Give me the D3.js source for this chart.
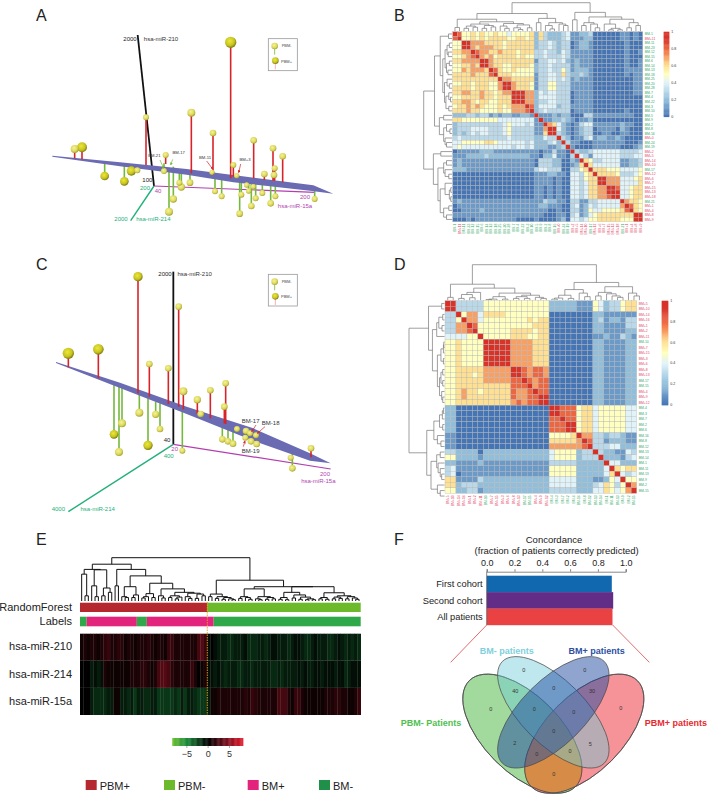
<!DOCTYPE html>
<html><head><meta charset="utf-8">
<script src="https://d3js.org/d3.v7.min.js"></script>
<style>html,body{margin:0;padding:0;background:#fff}svg{display:block}text{font-family:"Liberation Sans",Arial,sans-serif}</style>
</head><body><svg id="c" width="710" height="794"></svg>
<script>
// ---------- Panel A (values read in picture units, 3x of the panel crop)
const aPosX=[632,514,378,579,701,759,788,186,164,437,640,733,762,764];
const aPosTop=[127,338,352,399,421,445,469,442,447,465,495,522,525,505];
const aPosBase=[535,520,495,525,535,542,547,478,475,492,530,540,542,542];
const aPosDepth=[17,12,9,10,10,10,10,15,12,9,9,10,10,9];
const aNegX=[254,313,334,352,447,460,484,478,510,585,605,664,659,694,707,727,752,766,884,686,680,700,432,650,576];
const aNegTop=[528,544,513,511,635,597,561,548,548,574,589,584,641,618,595,579,610,589,597,573,555,560,513,527,517];
const aNegBase=[490,497,513,511,510,500,515,515,525,530,535,540,540,545,545,548,545,548,570,545,545,545,490,527,517];
const aNegDepth=[13,13,14,9,12,11,11,9,10,9,9,9,10,10,9,9,10,9,9,8,8,8,9,8,8];
// ---------- Panel C
const cPosX=[145,235,354,476,388,445,490,532,571,617,613,873];
const cPosTop=[310,298,80,170,342,355,424,449,421,400,470,595];
const cPosBase=[352,385,430,470,440,462,478,492,505,522,520,622];
const cPosDepth=[17,16,14,10,10,10,12,11,10,10,10,10];
const cNegX=[282,306,297,358,384,407,420,487,607,624,639,817,812,651,678,690,676,693,710,708,542];
const cNegTop=[553,520,606,488,586,493,537,602,568,574,581,655,623,537,543,550,563,574,582,556,492];
const cNegBase=[405,410,410,432,445,455,460,480,530,535,540,610,623,537,543,550,563,574,582,556,492];
const cNegDepth=[13,12,12,12,14,11,10,9,10,10,10,10,9,9,10,9,9,10,10,9,10];
// ---------- Panel B
const bNames=["BM-1","BM+11","BM-11","BM-23","BM-12","BM-15","BM-6","BM-14","BM-13","BM-18","BM-25","BM-20","BM-28","BM-7","BM-4","BM-22","BM-3","BM-10","BM-5","BM-9","BM-2","BM-8","BM-16","BM+0","BM-24","BM-19","BM+2","BM+5","BM+14","BM+10","BM-17","BM+12","BM+6","BM+7","BM+15","BM+13","BM+18","BM-21","BM+1","BM+4","BM+8","BM+9"];
const bMatrix=[
"a8 55656556 554 555 56 26322234 11223 000000 11010",
"8a 55656566 665 566 56 26322234 11122 000000 11010",
"55 a9777666 656 666 66 23343233 01221 000000 01000",
"55 9a767776 656 666 66 23343233 01221 000000 01000",
"66 77a87766 766 656 66 33433243 11111 000000 01001",
"55 678a7675 666 656 55 33433343 11111 000000 01000",
"66 7777a976 666 666 66 13344342 12111 000000 01001",
"55 66769a76 655 666 65 23343333 12111 000000 01001",
"55 767776a8 655 655 55 23343353 12221 000000 01111",
"66 6676668a 666 555 55 13344363 22321 000000 01011",
"66 66666666 a77 666 66 13344343 12111 000000 00011",
"55 66566655 7a9 766 65 13355333 11111 000000 00011",
"66 66566655 79a 766 65 13355333 11111 000000 00011",
"66 77667665 677 a99 77 24344333 01111 000000 00011",
"55 66667665 666 9a9 77 24444333 01111 000000 00000",
"66 77656655 666 99a 77 23344333 01111 000000 00000",
"56 67676555 656 777 a8 24444233 11111 000000 00000",
"66 67665555 655 777 8a 23433333 01111 000000 01000",
"22 23323312 122 112 21 a1112122 00033 111111 11100",
"66 55555555 444 444 44 1a112232 10112 000000 00000",
"23 33333333 345 444 34 11a76421 01344 111111 21100",
"23 33444433 345 333 33 117a9421 01233 011110 21000",
"23 23434433 345 333 33 1169a321 01233 001100 11000",
"34 33333333 334 333 33 22433a32 01134 122112 10000",
"44 55555665 444 444 34 222342a3 11000 111111 10001",
"45 44444444 444 344 34 2221123a 10000 111111 00012",
"01 11112221 111 111 11 10113110 a3223 444444 33334",
"11 12222322 222 222 21 10224110 3a431 444444 33344",
"12 11111111 111 111 11 03332200 21a65 334444 11223",
"12 11111111 111 111 11 03332200 126a6 444444 11223",
"22 21111111 111 111 11 34433300 3356a 666555 44445",
"00 00000000 000 000 00 11122110 44356 a66665 33345",
"00 00000000 000 000 00 11110100 44356 6a9777 44456",
"00 00000000 000 000 00 11110100 44346 69a777 44446",
"00 00000000 000 000 00 11010100 44346 677a98 44566",
"00 00000000 000 000 00 11010100 44346 6779a9 44566",
"00 00000000 000 000 00 11010100 44346 67789a 44566",
"12 11111111 111 111 11 11322110 33113 344444 a7665",
"01 11111111 111 111 11 12211100 34124 344444 7a865",
"00 11112111 111 111 11 11100100 33125 445555 68a65",
"11 11111111 111 111 11 11000110 34124 566666 666a9",
"00 01011111 111 100 00 10000120 44345 566666 5559a"];
const bTree=[1,
 [.62,
  [.42,[.13,0,0],[.33,
    [.25,[.18,[.1,0,0],[.14,0,0]],[.2,[.1,0,0],[.15,0,0]]],
    [.27,[.18,0,[.1,0,0]],[.22,[.12,0,[.06,0,0]],[.12,0,0]]]]],
  [.45,[.3,0,0],[.3,[.2,0,[.08,0,0]],[.25,0,[.2,0,0]]]]],
 [.66,[.4,0,0],[.5,[.3,[.2,0,0],[.25,0,[.12,0,0]]],
    [.42,[.25,0,[.1,[.05,0,0],[.05,0,0]]],[.3,[.12,0,0],[.2,0,0]]]]]];
// ---------- Panel D
const dNames=["BM+5","BM+10","BM+14","BM+16","BM+1","BM+2","BM+11","BM-10","BM+7","BM+15","BM+3","BM+6","BM+8","BM+13","BM-17","BM-15","BM+4","BM+9","BM+12","BM-4","BM-3","BM-7","BM-2","BM-6","BM-16","BM-8","BM-12","BM-13","BM-14","BM-1","BM-11","BM-13","BM-9","BM-2","BM-15"];
const dMatrix=[
"a9 3333 3 55555 5555 555 22222 111 54233566",
"9a 3333 3 55555 5555 555 22222 111 54233566",
"33 a577 4 66665 5555 555 00000 000 22111111",
"33 5a77 4 55555 5556 566 00000 000 23122133",
"33 77a8 5 55555 5555 666 00000 000 22111133",
"33 778a 5 55555 6666 566 00000 000 22111122",
"44 4455 a 55555 6665 566 00000 000 11211321",
"55 6555 5 a9999 7777 666 00000 000 22111122",
"55 6555 5 9a999 7777 666 00000 000 22111122",
"55 6555 5 99a99 7777 666 00000 000 22111122",
"55 6555 5 999a9 7777 666 00000 000 22111122",
"55 6555 5 9999a 7777 666 00000 000 22111122",
"55 6666 6 77777 a987 887 00000 000 22111122",
"55 6665 6 77777 9a87 887 00000 000 22111122",
"55 6666 6 77777 88a8 788 00000 000 22111122",
"55 6666 6 66666 888a 788 00000 000 22111122",
"55 6766 5 66666 8778 a88 00000 000 22111122",
"55 6766 6 66666 8778 8a9 00000 000 22111122",
"55 6666 6 66666 7878 89a 00000 000 22111122",
"22 0000 0 00000 0000 000 a9888 566 45555544",
"22 0000 0 00000 0000 000 9a888 566 45555544",
"22 0000 0 00000 0000 000 88a88 566 45555544",
"22 0000 0 00000 0000 000 888a9 566 45555544",
"22 0000 0 00000 0000 000 8889a 566 45555544",
"11 0000 0 00000 0000 000 55556 a77 33233211",
"11 0000 0 00000 0000 000 66666 7a8 33122211",
"11 0000 0 00000 0000 000 77777 78a 33344222",
"33 2222 0 22222 2222 222 45555 233 a3221143",
"55 2222 1 22222 2222 222 45555 233 3a222134",
"22 1111 2 11111 1111 111 33333 222 22a44222",
"34 1111 1 11111 1111 111 55555 222 224a6566",
"34 0111 1 11111 1111 111 55555 222 2246a434",
"66 1111 3 22222 2222 222 44444 222 11254a55",
"66 2333 2 22222 2222 222 44444 222 346535a7",
"55 2233 1 22222 2222 222 33333 222 4465457a"];
const dTree=[1,
 [.45,[.08,0,0],[.34,
   [.22,[.16,[.05,0,0],[.07,0,0]],0],
   [.2,[.1,[.03,[.02,0,0],0],[.03,0,0]],[.14,[.1,[.05,0,0],[.05,0,0]],[.08,0,[.05,0,0]]]]]],
 [.5,[.3,[.14,[.06,[.03,0,0],0],[.05,0,0]],[.2,0,[.1,0,0]]],
   [.38,[.22,[.12,0,0],[.18,0,[.12,0,[.08,0,0]]]],[.2,0,[.12,0,0]]]]];
// ---------- Panel E
const eRowNames=["hsa-miR-210","hsa-miR-214","hsa-miR-15a"];
const eMir210=[0.5,1,0.5,1,1,0.5,1,1.5,2,1,1,1.5,1.5,0.5,1,1,0.5,1,1,1,1.5,1,0.5,1,1,0.5,2,2,1,1,1,1,1,1,1,2.5,3,2,-0.5,0,-0.5,-1,-1,-1,-1.5,-1.5,-1,-1,-1,-0.5,-1.5,-1.5,-1.5,-1,-1,-1.5,-1,-0.5,-0.5,-1,-1,-1,-1.5,-1,-0.5,-0.5,-1,-1.5,-1.5,-1,-0.5,-1,-1,-1,-1.5,-1.5,-1,-0.5,-1,-1.5,-1,-1.5,-1,-1.5];
const eMir214=[0,0,0,-1,-0.5,-1,-0.5,1,0.5,0.5,0.5,0.5,0.5,0.5,0.5,1,1,1,1.5,1.5,1,0.5,1,2.5,3,3,2.5,1.5,1,1,1,1,1,2,1,0,0.5,1,-0.5,-0.5,-1,-0.5,-1,-1.5,-1,-1,-1,-1.5,-1.5,-1,-1,-1.5,-1,-1,-1,-1,-1,-1.5,-1.5,-1,-1.5,-1,-1,-1,-1,-0.5,-1,-0.5,-1,-1,-0.5,-0.5,-1,-0.5,-0.5,-0.5,-1,-0.5,-0.5,-1.5,-1,-0.5,-0.5,-0.5];
const eMir15a=[0,0,0,-1,-1.5,-1.5,-1.5,-1.5,-1,-1,0.5,0.5,-1,-1,-1.5,-1,-2,-1,-1,-1.5,-1.5,-1,-1,-2,-2,-2,-2,-2,-1.5,-2,-1,-2,-1,-1,-1.5,-2,-2,-2,-1,0.5,0.5,1,1,1,1,1,1,1,1,1.5,1,2,1.5,1,1,1,1,1,1,2.5,2.5,2.5,1,0.5,2,2,1,0.5,0.5,0.5,0.5,0.5,0.5,1,1,1,1.5,1.5,1,1,0.5,0.5,1,2];
const eForest=[["PBM+",38],["PBM-",46]];
const eLabels=[["BM-",2],["BM+",15],["BM-",3],["BM+",20],["BM-",44]];
const eTree=[1,
 [.85,
  [.73,[.62,0,[.12,0,0]],[.72,[.35,0,[.1,0,0]],[.3,[.12,0,0],[.2,0,0]]]],
  [.73,[.35,0,0],[.58,
    [.33,[.1,0,[.08,0,0]],[.14,[.08,0,0],0]],
    [.41,[.17,[.1,[.07,0,0],0],[.08,0,0]],[.28,[.12,0,[.07,0,0]],[.2,[.12,[.08,0,0],[.09,[.05,0,0],0]],[.18,[.1,0,[.06,0,0]],[.16,[.06,0,0],[.12,0,0]]]]]]]]],
 [.48,
  [.16,[.1,0,0],[.1,[.06,0,0],[.08,[.04,0,0],[.05,0,[.03,0,0]]]]],
  [.33,
   [.28,[.1,[.06,0,0],[.08,0,[.04,0,0]]],[.1,[.05,0,[.03,0,0]],[.08,[.04,0,0],[.05,0,0]]]],
   [.33,[.2,[.08,[.04,0,0],[.03,0,0]],[.14,[.07,0,0],[.09,[.04,0,0],[.05,[.03,0,0],[.03,0,0]]]]],
        [.19,[.08,[.05,0,0],[.04,0,0]],[.12,[.09,[.05,0,0],[.06,0,0]],[.1,[.05,0,0],[.07,0,[.04,0,0]]]]]]]]];
// ---------- Panel F
const fCohorts=["First cohort","Second cohort","All patients"];
const fConcordance=[0.90,0.91,0.905];
const fTicks=[0,0.2,0.4,0.6,0.8,1];
const vennCounts=[0,0,0,0, 40,0,30, 0,0, 2,0,5, 0,0, 0];
const vennX=[302,401,584,692, 376,491,606, 433,551, 374,491,601, 440,540, 491];
const vennY=[553,435,435,548, 498,489,498, 553,561, 655,619,658, 686,679, 747];
const hmStops=[0,.2,.4,.5,.6,.75,.9,1];
const hmColors=["#4575b4","#91bfdb","#e0f3f8","#ffffbf","#fee090","#f57f4d","#d8352a","#d73027"];
const colorTicks=[0,.2,.4,.6,.8,1];

const svg=d3.select("#c");
const defs=svg.append("defs");
function grad(id,a,b,c){const g=defs.append("radialGradient").attr("id",id).attr("cx","42%").attr("cy","38%").attr("r","62%");
 g.append("stop").attr("offset","0%").attr("stop-color",a);g.append("stop").attr("offset","65%").attr("stop-color",b);g.append("stop").attr("offset","100%").attr("stop-color",c);}
grad("sLight","#f7f39a","#dcd85a","#a5a336");grad("sDark","#ece83a","#c8c420","#79780f");
function arrowDef(id,col){defs.append("marker").attr("id",id).attr("viewBox","0 0 6 6").attr("refX",5).attr("refY",3).attr("markerWidth",4).attr("markerHeight",4).attr("orient","auto").append("path").attr("d","M0,0L6,3L0,6Z").attr("fill",col);}
arrowDef("arRed","#d8232a");arrowDef("arGreen","#74b83c");

const letters=[["A",36,21],["B",394,21],["C",36,270],["D",394,270],["E",36,545],["F",394,545]];
svg.selectAll("text.pl").data(letters).join("text").attr("class","pl").attr("x",d=>d[1]).attr("y",d=>d[2]).attr("font-size",16).attr("fill","#222").text(d=>d[0]);

// ---------- 3D panels
const RED="#d8232a",GRN="#74b83c",TEAL="#22b07a",MAG="#b23fb0";
function panel3D(o){
 const x=d3.scaleLinear([0,1020],[o.ox,o.ox+340]),y=d3.scaleLinear([0,720],[o.oy,o.oy+240]),r=d3.scaleLinear([0,30],[0,10]);
 const g=svg.append("g");
 const ax=[[o.origin,o.z,"#111",1.8],[o.origin,o.t,TEAL,1.4],[o.origin,o.m,MAG,1.2]];
 g.selectAll("line.ax").data(ax).join("line").attr("x1",d=>x(d[0][0])).attr("y1",d=>y(d[0][1])).attr("x2",d=>x(d[1][0])).attr("y2",d=>y(d[1][1])).attr("stroke",d=>d[2]).attr("stroke-width",d=>d[3]);
 const stem=(X,T,B,col)=>g.selectAll(null).data(X).join("line").attr("x1",d=>x(d)).attr("x2",d=>x(d)).attr("y1",(d,i)=>y(T[i])).attr("y2",(d,i)=>y(B[i])).attr("stroke",col).attr("stroke-width",1.6);
 stem(o.negX,o.negTop,o.negBase,GRN);
 g.append("path").attr("d",d3.line().x(d=>x(d[0])).y(d=>y(d[1]))(o.plane)+"Z").attr("fill","#6a6bb2");
 stem(o.posX,o.posTop,o.posBase,RED);
 const ball=(X,T,D)=>g.selectAll(null).data(X).join("circle").attr("cx",d=>x(d)).attr("cy",(d,i)=>y(T[i])).attr("r",(d,i)=>r(D[i])).attr("fill",(d,i)=>D[i]>=13?"url(#sDark)":"url(#sLight)");
 ball(o.negX,o.negTop,o.negDepth);ball(o.posX,o.posTop,o.posDepth);
 g.selectAll(null).data(o.labels).join("text").attr("x",d=>x(d[1])).attr("y",d=>y(d[2])+d[4]*.35).attr("text-anchor","middle").attr("font-size",d=>d[4]).attr("fill",d=>d[3]).text(d=>d[0]);
 g.selectAll(null).data(o.arrows).join("line").attr("x1",d=>x(d[0])).attr("y1",d=>y(d[1])).attr("x2",d=>x(d[2])).attr("y2",d=>y(d[3])).attr("stroke",d=>d[4]==="g"?GRN:RED).attr("stroke-width",.7).attr("marker-end",d=>d[4]==="g"?"url(#arGreen)":"url(#arRed)");
 const b=o.box;
 g.append("rect").attr("x",x(b[0])).attr("y",y(b[1])).attr("width",x(b[2])-x(b[0])).attr("height",y(b[3])-y(b[1])).attr("fill","none").attr("stroke","#999").attr("stroke-width",.8);
 const leg=[[b[0]+19,b[1]+22,GRN,"PBM-","url(#sLight)",b[0]+40,b[1]+22],[b[0]+21,b[1]+66,"#f0a0a8","PBM+","url(#sDark)",b[0]+38,b[1]+68]];
 leg.forEach(l=>{g.append("line").attr("x1",x(l[0])).attr("x2",x(l[0])).attr("y1",y(l[1])).attr("y2",y(l[1]+26)).attr("stroke",l[2]).attr("stroke-width",.8);
  g.append("circle").attr("cx",x(l[0])).attr("cy",y(l[1])).attr("r",3.3).attr("fill",l[4]);
  g.append("text").attr("x",x(l[5])).attr("y",y(l[6])+1.4).attr("font-size",4).attr("fill","#444").text(l[3]);});
}
panel3D({ox:20,oy:0,origin:[402,558],z:[353,105],t:[332,662],m:[885,577],
 plane:[[97,467],[300,487],[500,507],[880,556],[940,581],[870,572],[640,547],[500,524],[300,499],[97,470]],
 posX:aPosX,posTop:aPosTop,posBase:aPosBase,posDepth:aPosDepth,negX:aNegX,negTop:aNegTop,negBase:aNegBase,negDepth:aNegDepth,
 labels:[["2000",330,117,"#222",6],["hsa-miR-210",423,117,"#333",6],["100",382,541,"#222",6],["200",375,564,TEAL,6],["40",414,574,MAG,6],["2000",303,657,TEAL,6],["hsa-miR-214",400,657,TEAL,6],["200",855,590,MAG,6],["hsa-miR-15a",825,619,MAG,6],["BM-21",403,466,"#333",4.2],["BM-17",476,459,"#333",4.2],["BM-11",555,474,"#333",4.2],["BM+3",675,480,"#333",4.2]],
 arrows:[[420,480,431,505,"g"],[458,478,452,495,"g"],[560,483,578,507,"r"],[662,492,656,518,"r"]],box:[745,116,832,212]});
panel3D({ox:20,oy:250,origin:[460,583],z:[460,65],t:[145,785],m:[932,657],
 plane:[[108,336],[300,398],[500,470],[700,535],[870,610],[932,640],[870,632],[700,572],[500,492],[300,414],[108,339]],
 posX:cPosX,posTop:cPosTop,posBase:cPosBase,posDepth:cPosDepth,negX:cNegX,negTop:cNegTop,negBase:cNegBase,negDepth:cNegDepth,
 labels:[["2000",435,71,"#222",6],["hsa-miR-210",524,71,"#333",6],["40",441,569,"#222",6],["20",464,598,MAG,6],["400",446,619,TEAL,6],["4000",115,777,TEAL,6],["hsa-miR-214",233,778,TEAL,6],["200",915,671,MAG,6],["hsa-miR-15a",895,693,MAG,6],["BM-17",692,513,"#333",6],["BM-18",752,520,"#333",6],["BM-19",692,604,"#333",6]],
 arrows:[[708,525,695,545,"r"],[735,530,712,550,"r"],[670,590,675,573,"r"]],box:[745,73,832,168]});

// ---------- dendrogram helpers
function dendro(g,tree,n,pos,h,orient,color,w){
 let idx=0;let d="";
 const P=(p,v)=>orient==="top"?[pos(p),h(v)]:[h(v),pos(p)];
 function walk(t){ if(!Array.isArray(t)) return {p:idx++ +.5,v:0};
  const a=walk(t[1]),b=walk(t[2]);
  const A=P(a.p,a.v),B=P(a.p,t[0]),C=P(b.p,t[0]),D=P(b.p,b.v);
  d+=`M${A}L${B}L${C}L${D}`;
  return {p:(a.p+b.p)/2,v:t[0]};}
 walk(tree);
 g.append("path").attr("d",d).attr("fill","none").attr("stroke",color).attr("stroke-width",w);
}
const hmColor=d3.scaleLinear(hmStops,hmColors);
function heatPanel(o){
 const n=o.names.length,g=svg.append("g");
 const rows=o.m.map(s=>s.replace(/ /g,"").split("").map(c=>c==="a"?1:+c/10));
 const xs=d3.scaleLinear([0,n],[o.x0,o.x1]),ys=d3.scaleLinear([0,n],[o.y0,o.y1]);
 const cells=rows.flatMap((r,i)=>r.map((v,j)=>({i,j,v})));
 g.selectAll("rect.c").data(cells).join("rect").attr("x",d=>xs(d.j)).attr("y",d=>ys(d.i)).attr("width",xs(1)-xs(0)).attr("height",ys(1)-ys(0)).attr("fill",d=>hmColor(d.v)).attr("stroke","#b5b5b5").attr("stroke-width",.35);
 const col=s=>s.includes("+")?"#e2455f":"#35a865";
 g.selectAll("text.r").data(o.names).join("text").attr("x",o.x1+2).attr("y",(d,i)=>ys(i+.5)+1.2).attr("font-size",3.4).attr("fill",col).text(d=>d);
 g.selectAll("text.k").data(o.names).join("text").attr("transform",(d,i)=>`translate(${xs(i+.5)+1.2},${o.y1+2}) rotate(-90)`).attr("text-anchor","end").attr("font-size",3.4).attr("fill",col).text(d=>d);
 dendro(g,o.tree,n,xs,d3.scaleLinear([0,1],[o.y0-.5,o.y0-o.dh]),"top","#777",.7);
 dendro(g,o.tree,n,ys,d3.scaleLinear([0,1],[o.x0-.5,o.x0-o.dh]),"left","#777",.7);
 const cb=o.cb,cy=d3.scaleLinear([0,1],[cb[3],cb[2]]);
 g.selectAll("rect.b").data(d3.range(0,1,.01)).join("rect").attr("x",cb[0]).attr("width",cb[1]-cb[0]).attr("y",d=>cy(d+.01)).attr("height",cy(0)-cy(.01)+.4).attr("fill",d=>hmColor(d));
 g.selectAll("text.t").data(colorTicks).join("text").attr("x",cb[1]+2).attr("y",d=>cy(d)+1.2).attr("font-size",3.6).attr("fill","#333").text(d=>d);
}
heatPanel({names:bNames,m:bMatrix,tree:bTree,x0:452.7,x1:642.7,y0:31.7,y1:221.7,dh:29,cb:[663.7,669.3,31.7,116.7]});
heatPanel({names:dNames,m:dMatrix,tree:dTree,x0:445,x1:636.7,y0:300.7,y1:493.3,dh:36,cb:[661.7,668.3,300.7,405]});

// ---------- Panel E
const eN=eMir210.length;
const ex=d3.scaleLinear([0,eN],[80,360.7]);
const E=svg.append("g");
dendro(E,eTree,eN,ex,d3.scaleLinear([0,1],[601,557.7]),"top","#111",1);
const groupCol={"PBM+":"#b5282d","PBM-":"#6cb92c","BM+":"#e2247c","BM-":"#2fa84a"};
function runs(a,y0,y1){let c=0;a.forEach(([k,n])=>{E.append("rect").attr("x",ex(c)).attr("y",y0).attr("width",ex(c+n)-ex(c)).attr("height",y1-y0).attr("fill",groupCol[k]);c+=n;});}
runs(eForest,602.7,612);runs(eLabels,616.7,626.3);
const hc=d3.scaleLinear([-8.3,-5,0,5,8.3],["#6cc030","#1a8a3a","#000","#8a1020","#e31a2c"]);
const ey=d3.scaleBand([0,1,2],[633.7,715]);
[eMir210,eMir214,eMir15a].forEach((r,i)=>{E.selectAll(null).data(r).join("rect").attr("x",(d,j)=>ex(j)).attr("y",ey(i)).attr("width",ex(1)-ex(0)+.3).attr("height",ey.bandwidth()).attr("fill",d=>hc(d));});
E.append("line").attr("x1",207.3).attr("x2",207.3).attr("y1",602).attr("y2",715).attr("stroke","#f0a020").attr("stroke-width",.9).attr("stroke-dasharray","1.5 1");
const eLab=[["RandomForest",607.5],["Labels",621.5]].concat(eRowNames.map((s,i)=>[s,ey(i)+ey.bandwidth()/2-.5]));
E.selectAll("text.l").data(eLab).join("text").attr("x",72).attr("y",d=>d[1]+3.7).attr("text-anchor","end").attr("font-size",11).attr("fill","#222").text(d=>d[0]);
const cs=d3.scaleLinear([-8.3,8.3],[172.3,243]);
E.selectAll("rect.cb").data(d3.range(-8.3,8.3,.2)).join("rect").attr("x",d=>cs(d)).attr("y",738).attr("width",1.2).attr("height",8).attr("fill",d=>hc(d));
const cax=E.append("g").attr("transform","translate(0,746)").call(d3.axisBottom(cs).tickValues([-5,0,5]).tickSize(2).tickFormat(d=>d<0?"\u2212"+(-d):d));
cax.select(".domain").remove();cax.selectAll("line").attr("stroke","#555").attr("stroke-width",.5);cax.selectAll("text").attr("font-size",9).attr("fill","#333").attr("font-family","Liberation Sans");
const legItems=[["PBM+",85.7],["PBM-",164],["BM+",247.7],["BM-",319]];
legItems.forEach(([k,xx])=>{E.append("rect").attr("x",xx).attr("y",780).attr("width",11).attr("height",10).attr("fill",k==="BM-"?"#1f8f4a":groupCol[k]);
 E.append("text").attr("x",xx+14).attr("y",790).attr("font-size",11).attr("fill","#222").text(k);});

// ---------- Panel F
const F=svg.append("g");
const fx=d3.scaleLinear([0,1],[486.7,625.7]);
const fy=d3.scaleBand(fCohorts,[575.7,625]);
const fCol=["#1268ae","#612d87","#ea4243"];
F.append("text").attr("x",554).attr("y",543).attr("text-anchor","middle").attr("font-size",9.5).attr("fill","#222").text("Concordance");
F.append("text").attr("x",556.7).attr("y",553.5).attr("text-anchor","middle").attr("font-size",9.5).attr("fill","#222").text("(fraction of patients correctly predicted)");
F.selectAll("rect.b").data(fCohorts).join("rect").attr("x",fx(0)).attr("y",d=>fy(d)).attr("width",(d,i)=>fx(fConcordance[i])-fx(0)).attr("height",fy.bandwidth()+.2).attr("fill",(d,i)=>fCol[i]);
const fax=F.append("g").attr("transform","translate(0,571.7)").call(d3.axisTop(fx).tickValues(fTicks).tickSize(2.5).tickFormat(d3.format(".1f")));
fax.select(".domain").attr("stroke","#555").attr("stroke-width",.7);fax.selectAll("line").attr("stroke","#555").attr("stroke-width",.7);fax.selectAll("text").attr("font-size",9).attr("fill","#222").attr("font-family","Liberation Sans").attr("dy","0");
F.append("line").attr("x1",fx(0)).attr("x2",fx(0)).attr("y1",571.7).attr("y2",625).attr("stroke","#555").attr("stroke-width",.7);
F.selectAll("text.c").data(fCohorts).join("text").attr("x",482.7).attr("y",d=>fy(d)+fy.bandwidth()/2+3.2).attr("text-anchor","end").attr("font-size",9.3).attr("fill","#222").text(d=>d);
const vx=d3.scaleLinear([0,960],[390,710]),vy=d3.scaleLinear([0,795],[525,790]);
[[290,300,182,412],[668,300,778,412]].forEach(l=>F.append("line").attr("x1",vx(l[0])).attr("y1",vy(l[1])).attr("x2",vx(l[2])).attr("y2",vy(l[3])).attr("stroke","#d8484a").attr("stroke-width",.8));
const eGreen=[397,626,225,115,45,"#46b43c",.5],eRed=[583,626,225,115,-45,"#eb2832",.5],eTeal=[490,562,216,96,45,"#6fcbd8",.45],eBlue=[490,562,216,96,-45,"#1f4aa0",.5];
const ellAttr=(s,op)=>s.attr("transform",d=>`translate(${vx(d[0])},${vy(d[1])}) rotate(${d[4]})`).attr("rx",d=>d[2]/3).attr("ry",d=>d[3]/3);
ellAttr(defs.append("clipPath").attr("id","clipG").selectAll("ellipse").data([eGreen]).join("ellipse"));
const drawEll=(d)=>ellAttr(F.append("ellipse").datum(d)).attr("fill",d[5]).attr("fill-opacity",d[6]).attr("stroke","#4a4a4a").attr("stroke-width",.7);
drawEll(eGreen);drawEll(eRed);
// the warm lens where the two outer sets overlap
ellAttr(F.append("ellipse").datum(eRed)).attr("clip-path",null).attr("fill","none");
F.append("g").attr("clip-path","url(#clipG)").append("ellipse").datum(eRed).call(s=>ellAttr(s)).attr("fill","#d68c46");
[eGreen,eRed].forEach(d=>ellAttr(F.append("ellipse").datum(d)).attr("fill","none").attr("stroke","#4a4a4a").attr("stroke-width",.7));
drawEll(eTeal);drawEll(eBlue);
F.selectAll("text.v").data(vennCounts).join("text").attr("x",(d,i)=>vx(vennX[i])).attr("y",(d,i)=>vy(vennY[i])+2).attr("text-anchor","middle").attr("font-size",5.5).attr("fill","#333").text(d=>d);
[["BM- patients",350,378,"#7fd0dc"],["BM+ patients",620,378,"#2d4fa0"],["PBM- Patients",123,593,"#4fc04f"],["PBM+ patients",858,593,"#e62a30"]].forEach(t=>F.append("text").attr("x",vx(t[1])).attr("y",vy(t[2])+3).attr("text-anchor","middle").attr("font-size",9).attr("font-weight","bold").attr("fill",t[3]).text(t[0]));
</script></body></html>
